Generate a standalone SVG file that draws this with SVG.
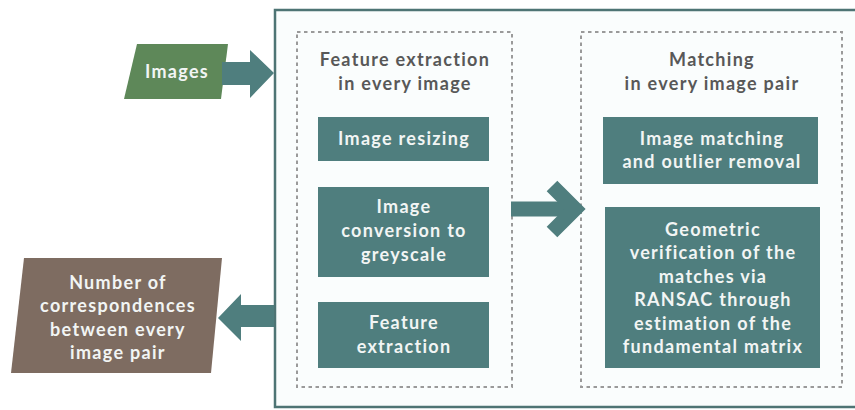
<svg xmlns="http://www.w3.org/2000/svg" width="855" height="410" viewBox="0 0 855 410">
<style>
.t{font-family:Lato,"Liberation Sans",sans-serif;font-weight:bold;font-size:18px;letter-spacing:1.3px;text-anchor:middle}
.w{fill:#f2f5f4}
.title{fill:#585858}
.box{fill:#4f7e7e}
.dash{fill:none;stroke:#9a9a9a;stroke-width:2;stroke-dasharray:3.5 3.5}
.conn{fill:#4f7e7e;stroke:none}
</style>
<rect width="855" height="410" fill="#ffffff"/>
<g id="container">
<rect x="275" y="10" width="590" height="397" fill="#fafdfd" stroke="#4e7474" stroke-width="2.5"/>
</g>
<g id="group-feature">
<rect class="dash" x="297" y="32" width="215" height="355"/>
<text class="t title" x="405" y="66">Feature extraction</text>
<text class="t title" x="405" y="90">in every image</text>
</g>
<g id="group-matching">
<rect class="dash" x="581" y="32" width="261" height="355"/>
<text class="t title" x="712" y="66">Matching</text>
<text class="t title" x="712" y="90">in every image pair</text>
</g>
<g id="images">
<polygon points="137,44 228,44 221,99 124,99" fill="#5e8859"/>
<text class="t w" x="177" y="78">Images</text>
</g>
<g id="output">
<polygon points="24,258 222,258 211,373 11,373" fill="#7e6c61"/>
<text class="t w" x="118" y="289">Number of</text>
<text class="t w" x="118" y="312">correspondences</text>
<text class="t w" x="118" y="336">between every</text>
<text class="t w" x="118" y="359">image pair</text>
</g>
<g id="resizing">
<rect class="box" x="318" y="117" width="171" height="44"/>
<text class="t w" x="404" y="145">Image resizing</text>
</g>
<g id="greyscale">
<rect class="box" x="318" y="187" width="171" height="90"/>
<text class="t w" x="404" y="213">Image</text>
<text class="t w" x="404" y="237">conversion to</text>
<text class="t w" x="404" y="261">greyscale</text>
</g>
<g id="feature">
<rect class="box" x="318" y="302" width="171" height="66"/>
<text class="t w" x="404" y="329">Feature</text>
<text class="t w" x="404" y="353">extraction</text>
</g>
<g id="matching">
<rect class="box" x="603" y="117" width="215" height="67"/>
<text class="t w" x="712" y="145">Image matching</text>
<text class="t w" x="712" y="168">and outlier removal</text>
</g>
<g id="verification">
<rect class="box" x="605" y="207" width="215" height="161"/>
<text class="t w" x="713" y="236">Geometric</text>
<text class="t w" x="713" y="259">verification of the</text>
<text class="t w" x="713" y="283">matches via</text>
<text class="t w" x="713" y="306">RANSAC through</text>
<text class="t w" x="713" y="330">estimation of the</text>
<text class="t w" x="713" y="353">fundamental matrix</text>
</g>
<g id="connectors">
<polygon class="conn" points="222,62 250,62 250,50 274,73 250,98 250,85 222,85"/>
<line x1="511" y1="209" x2="570" y2="209" stroke="#4f7e7e" stroke-width="15"/>
<polyline points="552,186 575,209 552,232" fill="none" stroke="#4f7e7e" stroke-width="15"/>
<polygon class="conn" points="274,305 241,305 241,294 218,318 241,341 241,327 274,327"/>
</g>
</svg>
